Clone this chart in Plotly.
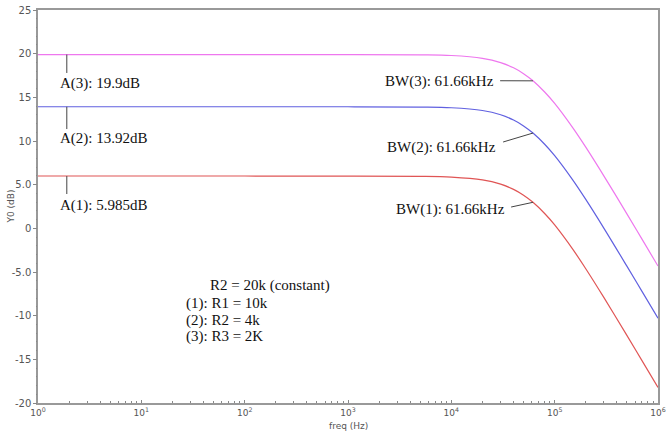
import plotly.graph_objects as go

freq_hz = [1, 10, 100, 1000, 5000, 10000, 20000, 30000, 40000, 50000, 61660,
           80000, 100000, 150000, 200000, 300000, 500000, 700000, 1000000]
gain_1 = [5.99, 5.99, 5.99, 5.98, 5.96, 5.87, 5.55, 5.06, 4.46, 3.79, 2.98,
          1.70, 0.39, -2.41, -4.63, -7.94, -12.26, -15.15, -18.23]
gain_2 = [13.92, 13.92, 13.92, 13.92, 13.89, 13.81, 13.49, 13.00, 12.40, 11.73, 10.91,
          9.63, 8.32, 5.52, 3.31, 0.00, -4.33, -7.22, -10.30]
gain_3 = [19.90, 19.90, 19.90, 19.90, 19.87, 19.79, 19.47, 18.98, 18.38, 17.71, 16.89,
          15.61, 14.30, 11.50, 9.29, 5.98, 1.66, -1.24, -4.32]

series_colors = ["#e05555", "#6060e0", "#ee77ee"]
y_tickvals = [25, 20, 15, 10, 5, 0, -5, -10, -15, -20]
y_ticktext = ["25", "20", "15", "10", "5.0", "0", "-5.0", "-10", "-15", "-20"]
y_minor = list(range(-20, 26))
x_tickvals = [1, 10, 100, 1000, 10000, 100000, 1000000]
x_ticktext = ["10<sup>%d</sup>" % i for i in range(7)]
x_minor = [m * 10 ** d for d in range(6) for m in range(2, 10)]

fig = go.Figure()
for g, c in zip([gain_1, gain_2, gain_3], series_colors):
    fig.add_trace(go.Scatter(x=freq_hz, y=g, mode="lines", line=dict(color=c, width=1.2, shape="spline"),
                             showlegend=False, hoverinfo="skip"))

lead = dict(color="#444444", width=1)
a_leaders = [(1.9, 19.9, 17.79), (1.9, 13.92, 11.37), (1.9, 5.985, 3.93)]
for xf, y0, y1 in a_leaders:
    fig.add_trace(go.Scatter(x=[xf, xf], y=[y0, y1], mode="lines", line=lead, showlegend=False, hoverinfo="skip"))
bw_leaders = [(29650, 16.9, 61660, 16.89), (31700, 9.885, 61660, 10.91), (37900, 2.44, 61660, 2.98)]
for xa, ya, xb, yb in bw_leaders:
    fig.add_trace(go.Scatter(x=[xa, xb], y=[ya, yb], mode="lines", line=lead, showlegend=False, hoverinfo="skip"))

fig.add_trace(go.Scatter(x=[1, 1000000], y=[-20, 25], mode="markers", marker=dict(opacity=0),
                         xaxis="x2", yaxis="y2", showlegend=False, hoverinfo="skip"))

tfont = dict(family="Liberation Serif", size=15, color="#111111")
annots = []
for txt, y in [("A(3): 19.9dB", 16.64), ("A(2): 13.92dB", 10.34), ("A(1): 5.985dB", 2.67)]:
    annots.append(dict(x=0.194, y=y, xref="x", yref="y", text=txt, showarrow=False,
                       xanchor="left", yanchor="middle", font=tfont))
for txt, xr, y in [("BW(3): 61.66kHz", 4.433, 16.76), ("BW(2): 61.66kHz", 4.453, 9.31),
                   ("BW(1): 61.66kHz", 4.540, 2.10)]:
    annots.append(dict(x=xr, y=y, xref="x", yref="y", text=txt, showarrow=False,
                       xanchor="right", yanchor="middle", font=tfont))
annots.append(dict(x=2.246, y=-6.6, xref="x", yref="y", text="R2 = 20k (constant)", showarrow=False,
                   xanchor="center", yanchor="middle", font=tfont))
for txt, y in [("(1): R1 = 10k", -8.55), ("(2): R2 = 4k", -10.6), ("(3): R3 = 2K", -12.44)]:
    annots.append(dict(x=1.413, y=y, xref="x", yref="y", text=txt, showarrow=False,
                       xanchor="left", yanchor="middle", font=tfont))
annots.append(dict(x=0.5, y=0, xref="paper", yref="paper", yshift=-23, text="freq (Hz)", showarrow=False,
                   xanchor="center", yanchor="middle", font=dict(family="DejaVu Sans", size=9, color="#555555")))
annots.append(dict(x=0, y=0.5, xref="paper", yref="paper", xshift=-28, text="Y0 (dB)", showarrow=False,
                   textangle=-90, xanchor="center", yanchor="middle",
                   font=dict(family="DejaVu Sans", size=9, color="#555555")))

xfont = dict(family="DejaVu Sans", size=9, color="#555555")
yfont = dict(family="DejaVu Sans", size=10, color="#555555")
fig.update_layout(
    width=667, height=434,
    margin=dict(l=38, r=9, t=10, b=31),
    plot_bgcolor="white", paper_bgcolor="white",
    annotations=annots,
    xaxis=dict(type="log", range=[0, 6], tickvals=x_tickvals, ticktext=x_ticktext, automargin=False,
               showgrid=False, zeroline=False, showline=True, linecolor="#999999", linewidth=1.5, mirror=True,
               ticks="inside", ticklen=3, tickcolor="#888888", tickfont=xfont),
    yaxis=dict(range=[-20, 25], tickvals=y_tickvals, ticktext=y_ticktext, automargin=False,
               showgrid=False, zeroline=False, showline=True, linecolor="#999999", linewidth=1.5, mirror=True,
               ticks="outside", ticklen=3, tickcolor="#888888", tickfont=yfont),
    xaxis2=dict(type="log", range=[0, 6], overlaying="x", anchor="y", side="bottom", tickvals=x_minor,
                showticklabels=False, ticks="inside", ticklen=2, tickcolor="#888888", automargin=False,
                showgrid=False, zeroline=False, showline=False),
    yaxis2=dict(range=[-20, 25], overlaying="y", anchor="x", side="left", tickvals=y_minor,
                showticklabels=False, ticks="outside", ticklen=1.5, tickcolor="#888888", automargin=False,
                showgrid=False, zeroline=False, showline=False),
)
fig.write_html("out.html", config={"displayModeBar": False},
               post_script="document.body.style.margin='0';document.body.style.overflow='hidden';")
